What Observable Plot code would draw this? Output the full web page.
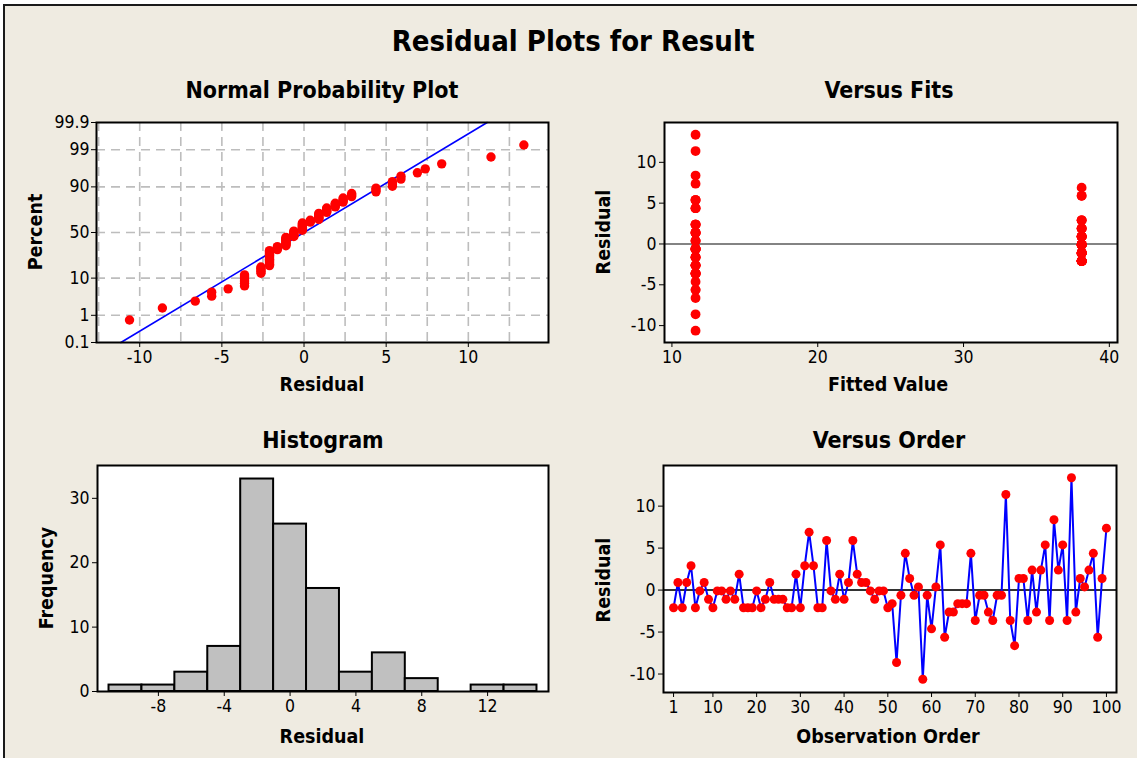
<!DOCTYPE html>
<html>
<head>
<meta charset="utf-8">
<script src="https://cdn.jsdelivr.net/npm/d3@7"></script>
<script src="https://cdn.jsdelivr.net/npm/@observablehq/plot@0.6"></script>
<style>
  html, body { margin: 0; padding: 0; background: #ffffff; }
  #page { position: relative; width: 1137px; height: 758px; overflow: hidden; background: #ffffff;
          font-family: "DejaVu Sans Condensed", "DejaVu Sans", sans-serif; }
  #bg { position: absolute; left: 3px; top: 4px; right: -10px; bottom: -10px; background: #efebe1;
        border-top: 2px solid #1a1a1a; border-left: 2px solid #1a1a1a; }
  .lbl { position: absolute; transform: translate(-50%, -50%); white-space: nowrap; font-weight: bold; color: #000; }
  .rot { transform: translate(-50%, -50%) rotate(-90deg); }
  .panel { position: absolute; }
</style>
</head>
<body>
<div id="page">
  <div id="bg"></div>
</div>
<script>
// ---------------- DATA ----------------
const chartTitle = "Residual Plots for Result";
const panelTitles = ["Normal Probability Plot", "Versus Fits", "Histogram", "Versus Order"];

// residuals in observation order (1..100)
const residuals = [
  -2.1, 0.9, -2.1, 0.9, 2.9, -2.1, -0.1, 0.9, -1.1, -2.1,
  -0.1, -0.1, -1.1, -0.1, -1.1, 1.9, -2.1, -2.1, -2.1, -0.1,
  -2.1, -1.1, 0.9, -1.1, -1.1, -1.1, -2.1, -2.1, 1.9, -2.1,
  2.9, 6.9, 2.9, -2.1, -2.1, 5.9, -0.1, -1.1, 1.9, -1.1,
  0.9, 5.9, 1.9, 0.9, 0.9, -0.1, -1.1, -0.1, -0.1, -2.1,
  -1.62, -8.62, -0.62, 4.38, 1.38, -0.62, 0.38, -10.62, -0.62, -4.62,
  0.38, 5.38, -5.62, -2.62, -2.62, -1.62, -1.62, -1.62, 4.38, -3.62,
  -0.62, -0.62, -2.62, -3.62, -0.62, -0.62, 11.38, -3.62, -6.62, 1.38,
  1.38, -3.62, 2.38, -2.62, 2.38, 5.38, -3.62, 8.38, 2.38, 5.38,
  -3.62, 13.38, -2.62, 1.38, 0.38, 2.38, 4.38, -5.62, 1.38, 7.38
];
// fitted value of each group: observations 1-50, observations 51-100
const fitLevels = [38.1, 11.62];
const groupSize = 50;

// tick labels / bins
const probTicks = [0.1, 1, 10, 50, 90, 99, 99.9];
const probGrid = [1, 10, 50, 90, 99];
const nppXTicks = [-10, -5, 0, 5, 10];
const nppXGrid = [-12.5, -10, -7.5, -5, -2.5, 0, 2.5, 5, 7.5, 10, 12.5];
const fitXTicks = [10, 20, 30, 40];
const residYTicks = [-10, -5, 0, 5, 10];
const histEdges = [-11, -9, -7, -5, -3, -1, 1, 3, 5, 7, 9, 11, 13, 15];
const histXTicks = [-8, -4, 0, 4, 8, 12];
const freqTicks = [0, 10, 20, 30];
const orderTicks = [1, 10, 20, 30, 40, 50, 60, 70, 80, 90, 100];

// ---------------- helpers ----------------
function qnorm(p) {
  const a = [-3.969683028665376e+01, 2.209460984245205e+02, -2.759285104469687e+02, 1.383577518672690e+02, -3.066479806614716e+01, 2.506628277459239e+00];
  const b = [-5.447609879822406e+01, 1.615858368580409e+02, -1.556989798598866e+02, 6.680131188771972e+01, -1.328068155288572e+01];
  const c = [-7.784894002430293e-03, -3.223964580411365e-01, -2.400758277161838e+00, -2.549732539343734e+00, 4.374664141464968e+00, 2.938163982698783e+00];
  const d = [7.784695709041462e-03, 3.224671290700398e-01, 2.445134137142996e+00, 3.754408661907416e+00];
  const pl = 0.02425, ph = 1 - pl;
  let q, r;
  if (p < pl) { q = Math.sqrt(-2 * Math.log(p)); return (((((c[0]*q+c[1])*q+c[2])*q+c[3])*q+c[4])*q+c[5]) / ((((d[0]*q+d[1])*q+d[2])*q+d[3])*q+1); }
  if (p <= ph) { q = p - 0.5; r = q*q; return (((((a[0]*r+a[1])*r+a[2])*r+a[3])*r+a[4])*r+a[5])*q / (((((b[0]*r+b[1])*r+b[2])*r+b[3])*r+b[4])*r+1); }
  q = Math.sqrt(-2 * Math.log(1 - p));
  return -(((((c[0]*q+c[1])*q+c[2])*q+c[3])*q+c[4])*q+c[5]) / ((((d[0]*q+d[1])*q+d[2])*q+d[3])*q+1);
}

const n = residuals.length;
const obs = residuals.map((r, i) => ({order: i + 1, resid: r, fit: i < groupSize ? fitLevels[0] : fitLevels[1]}));
const sorted = residuals.slice().sort((a, b) => a - b);
const npp = sorted.map((r, i) => ({resid: r, z: qnorm((i + 1 - 0.3) / (n + 0.4))}));
const mean = d3.mean(residuals), sd = d3.deviation(residuals);
const zLo = qnorm(0.001), zHi = qnorm(0.999);
const fitLine = [{resid: mean + sd * zLo, z: zLo}, {resid: mean + sd * zHi, z: zHi}];
const probTickZ = probTicks.map(p => qnorm(p / 100));
const probFmt = z => { const i = probTickZ.findIndex(t => Math.abs(t - z) < 1e-9); return i >= 0 ? String(probTicks[i]) : ""; };
const numFmt = d => String(d);

const RED = "#ff0000", BLUE = "#0000ff";
const FONT = '"DejaVu Sans Condensed", "DejaVu Sans", sans-serif';
const baseStyle = {background: "transparent", fontSize: "17.5px", fontFamily: FONT, color: "#000", overflow: "visible"};
const whiteBox = Plot.frame({fill: "white", stroke: "none"});
const border = Plot.frame({stroke: "#000", strokeWidth: 2});

const page = document.getElementById("page");
function place(svg, left, top) {
  svg.classList.add("panel");
  svg.style.left = left + "px";
  svg.style.top = top + "px";
  page.appendChild(svg);
}
function label(text, cx, cy, size, rotate) {
  const el = document.createElement("div");
  el.className = "lbl" + (rotate ? " rot" : "");
  el.textContent = text;
  el.style.left = cx + "px";
  el.style.top = cy + "px";
  el.style.fontSize = size + "px";
  page.appendChild(el);
}

// ---------------- Normal probability plot ----------------
place(Plot.plot({
  width: 570, height: 300, marginLeft: 96, marginRight: 22, marginTop: 17, marginBottom: 63,
  style: baseStyle,
  x: {domain: [-12.63, 14.88], ticks: nppXTicks, tickFormat: numFmt, tickSize: 5, tickPadding: 3, label: null},
  y: {domain: [zLo, zHi], ticks: probTickZ, tickFormat: probFmt, tickSize: 5, tickPadding: 2, label: null},
  marks: [
    whiteBox,
    Plot.ruleX(nppXGrid, {stroke: "#bdbdbd", strokeWidth: 1.6, strokeDasharray: "9,6"}),
    Plot.ruleY(probGrid.map(p => qnorm(p / 100)), {stroke: "#bdbdbd", strokeWidth: 1.6, strokeDasharray: "9,6"}),
    Plot.line(fitLine, {x: "resid", y: "z", stroke: BLUE, strokeWidth: 1.6}),
    Plot.dot(npp, {x: "resid", y: "z", r: 4.7, fill: RED, stroke: "none"}),
    border
  ]
}), 0, 105);

// ---------------- Versus fits ----------------
place(Plot.plot({
  width: 567, height: 300, marginLeft: 94, marginRight: 20, marginTop: 17, marginBottom: 63,
  style: baseStyle,
  x: {domain: [9.49, 40.56], ticks: fitXTicks, tickFormat: numFmt, tickSize: 5, tickPadding: 3, label: null},
  y: {domain: [-12.07, 14.88], ticks: residYTicks, tickFormat: numFmt, tickSize: 5, tickPadding: 3, label: null},
  marks: [
    whiteBox,
    Plot.ruleY([0], {stroke: "#5a5a5a", strokeWidth: 1.6}),
    Plot.dot(obs, {x: "fit", y: "resid", r: 4.9, fill: RED, stroke: "none"}),
    border
  ]
}), 570, 105);

// ---------------- Histogram ----------------
place(Plot.plot({
  width: 570, height: 300, marginLeft: 97, marginRight: 22, marginTop: 15, marginBottom: 59,
  style: baseStyle,
  x: {domain: [-11.7, 15.7], ticks: histXTicks, tickFormat: numFmt, tickSize: 5, tickPadding: 3, label: null},
  y: {domain: [0, 35.1], ticks: freqTicks, tickFormat: numFmt, tickSize: 5, tickPadding: 3, label: null},
  marks: [
    whiteBox,
    Plot.rectY(residuals, Plot.binX({y: "count"}, {x: d => d, thresholds: histEdges, fill: "#c0c0c0", stroke: "#000", strokeWidth: 2, inset: 0})),
    border
  ]
}), 0, 450);

// ---------------- Versus order ----------------
place(Plot.plot({
  width: 567, height: 300, marginLeft: 93, marginRight: 21, marginTop: 15, marginBottom: 58,
  style: baseStyle,
  x: {domain: [-1.3, 102.3], ticks: orderTicks, tickFormat: numFmt, tickSize: 5, tickPadding: 3, label: null},
  y: {domain: [-12.2, 14.84], ticks: residYTicks, tickFormat: numFmt, tickSize: 5, tickPadding: 3, label: null},
  marks: [
    whiteBox,
    Plot.ruleY([0], {stroke: "#333", strokeWidth: 2}),
    Plot.line(obs, {x: "order", y: "resid", stroke: BLUE, strokeWidth: 2}),
    Plot.dot(obs, {x: "order", y: "resid", r: 4.5, fill: RED, stroke: "none"}),
    border
  ]
}), 570, 450);

// ---------------- Text ----------------
label(chartTitle, 573, 41, 29, false);
label(panelTitles[0], 322, 90, 23, false);
label(panelTitles[1], 889, 90, 23, false);
label(panelTitles[2], 323, 440, 23, false);
label(panelTitles[3], 889, 440, 23, false);
label("Residual", 322, 384, 19.5, false);
label("Fitted Value", 888, 384, 19.5, false);
label("Residual", 322, 736, 19.5, false);
label("Observation Order", 888, 736, 19.5, false);
label("Percent", 35, 232, 19.5, true);
label("Residual", 603, 232, 19.5, true);
label("Frequency", 46, 578, 19.5, true);
label("Residual", 603, 580, 19.5, true);
</script>
</body>
</html>
